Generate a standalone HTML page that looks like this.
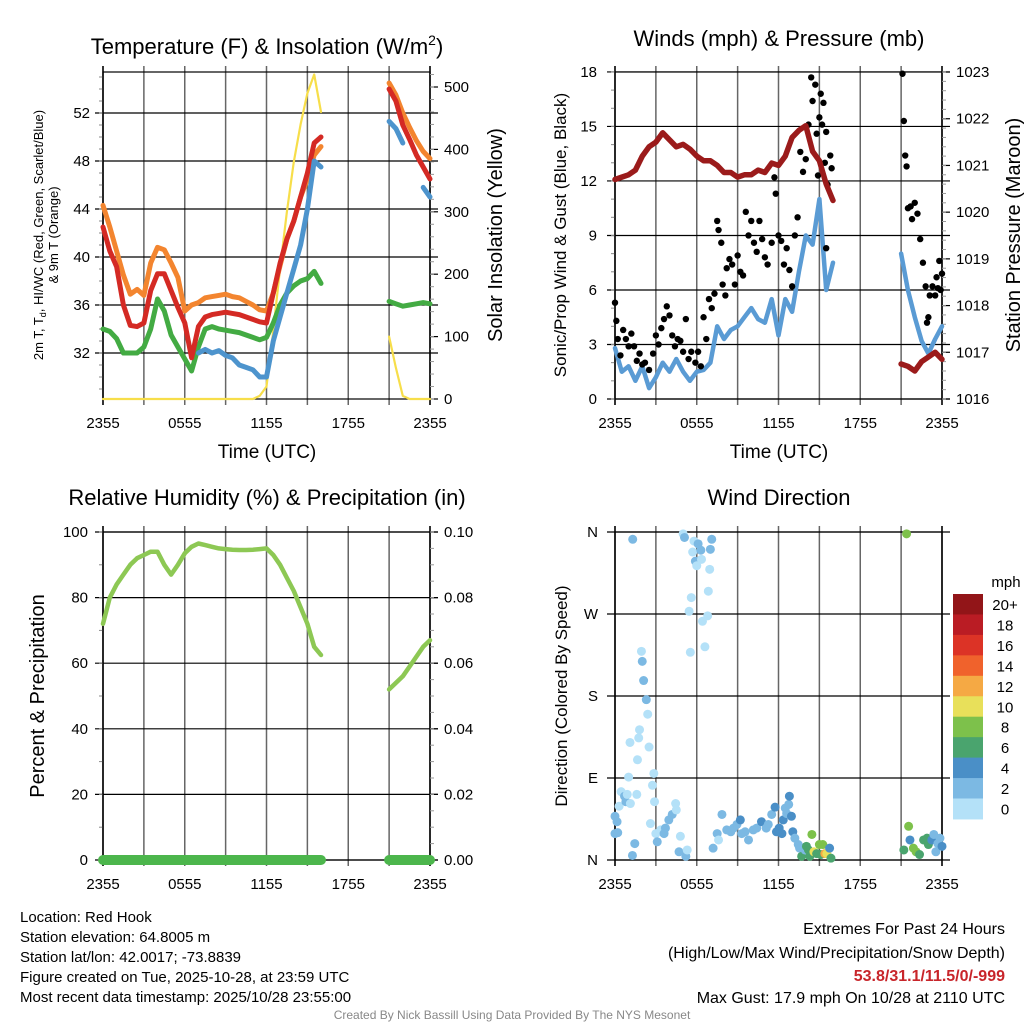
<!DOCTYPE html>
<html><head><meta charset="utf-8"><style>
html,body{margin:0;padding:0;background:#fff;}
svg{display:block;font-family:"Liberation Sans",sans-serif;}
</style></head><body>
<svg id="c" width="1024" height="1024" viewBox="0 0 1024 1024" xmlns="http://www.w3.org/2000/svg"></svg>
<script>
// ---- shared time grid (hours since 2355) ----
const hours = [0,0.5,1,1.5,2,2.5,3,3.5,4,4.5,5,5.5,6,6.5,7,7.5,8,8.5,9,9.5,10,10.5,11,11.5,12,12.5,13,13.5,14,14.5,15,15.5,16,16.5,17,17.5,18,18.5,19,19.5,20,20.5,21,21.5,22,22.5,23,23.5,24];
const timeTickLabels = ["2355","","0555","","1155","","1755","","2355"];
const N_ = null;
// Temperature panel
const tempRed    = [42.5,40.5,39.2,36,34.3,34.2,34.5,37.2,38.6,38.6,37.2,35.8,34.5,31.6,34.2,35.0,35.2,35.3,35.4,35.3,35.2,35.0,34.8,34.6,34.5,37,39.5,41.5,43,45,47,49.5,50,N_,N_,N_,N_,N_,N_,N_,N_,N_,54,53,51,49.8,48.5,47.5,46.5];
const tempOrange = [44.3,42.5,40.5,38.5,36.9,37.3,36.8,39.5,40.8,40.6,39.5,38.3,35.5,36,36.2,36.6,36.7,36.8,36.9,36.7,36.6,36.3,36,35.6,35.5,37,39.3,41.5,43,45,46.5,48.5,49.2,N_,N_,N_,N_,N_,N_,N_,N_,N_,54.5,53.5,52,50.8,49.7,48.8,48.2];
const dewGreen   = [34,33.8,33.2,32,32,32,32.5,34,36.5,35.5,33.5,32.5,31.5,30.5,32.5,34,34.2,34,33.9,33.8,33.7,33.5,33.3,33.1,33.3,34.5,36,37,37.6,38,38.2,38.8,37.8,N_,N_,N_,N_,N_,N_,N_,N_,N_,36.3,36.1,35.9,36,36.1,36.2,36.1];
const hiwcBlue   = [N_,N_,N_,N_,N_,N_,N_,N_,N_,N_,N_,N_,N_,N_,32,32.3,32,32.2,31.8,31.6,31,30.8,30.6,30,30,33,35,37,39,41,44,48,47.5,N_,N_,N_,N_,N_,N_,N_,N_,N_,51.3,50.7,49.5,N_,N_,45.8,45];
const solar      = [0,0,0,0,0,0,0,0,0,0,0,0,0,0,0,0,0,0,0,0,0,0,0,5,20,110,210,300,380,440,490,520,460,N_,N_,N_,N_,N_,N_,N_,N_,N_,100,50,5,0,0,0,0];
const tempTicks = [32,36,40,44,48,52];
const solarTicks = [0,100,200,300,400,500];
// Wind panel
const windSpeed = [2.8,1.5,1.8,1.0,1.8,0.6,1.2,2.0,1.5,2.2,1.5,1.0,1.5,1.6,2.0,4.0,3.3,3.8,4.0,4.5,5.0,4.4,4.2,5.5,3.5,5.5,4.8,7.0,9,8.5,11,6,7.5,N_,N_,N_,N_,N_,N_,N_,N_,N_,8,6,4.5,3.2,2.5,3.3,4.0];
const pressure = [1020.7,1020.75,1020.8,1020.9,1021.2,1021.4,1021.5,1021.7,1021.55,1021.4,1021.45,1021.35,1021.2,1021.1,1021.1,1021.0,1020.85,1020.85,1020.75,1020.8,1020.8,1020.9,1020.85,1021.05,1021.0,1021.2,1021.6,1021.75,1021.85,1021.3,1021.1,1020.6,1020.25,N_,N_,N_,N_,N_,N_,N_,N_,N_,1016.75,1016.7,1016.6,1016.8,1016.9,1017.0,1016.85];
const gustHours = [0,0.1,0.2,0.4,0.6,0.8,1.0,1.2,1.4,1.6,1.8,2.0,2.2,2.5,2.8,3.0,3.2,3.4,3.6,3.8,4.0,4.2,4.4,4.6,4.8,5.0,5.2,5.4,5.6,5.9,6.1,6.3,6.5,6.7,6.9,7.1,7.3,7.5,7.6,7.8,7.9,8.1,8.2,8.4,8.6,8.8,9.0,9.2,9.4,9.6,9.8,10.0,10.2,10.4,10.6,10.8,11.0,11.2,11.5,11.7,11.8,12.0,12.2,12.4,12.6,12.8,13.0,13.2,13.4,13.6,13.8,14.0,14.2,14.4,14.5,14.7,14.8,14.9,15.0,15.1,15.2,15.3,15.4,15.5,15.6,15.8,15.9,15.5,21.1,21.2,21.3,21.4,21.5,21.7,21.8,22.0,22.2,22.4,22.6,22.8,22.9,23.0,23.1,23.3,23.5,23.6,23.8,23.9,24.0,23.7];
const gustMph   = [5.3,4.3,3.3,2.4,3.8,3.3,2.9,3.6,2.9,2.1,2.5,1.9,2.0,1.6,2.5,3.5,3.0,3.9,4.4,5.1,4.6,3.5,2.9,3.3,3.2,2.6,4.4,2.2,2.6,2.0,2.6,1.8,4.5,3.3,5.5,5.0,5.8,9.8,9.3,8.6,6.3,5.7,7.2,7.7,7.4,6.3,7.9,7.0,6.8,10.3,9.0,9.8,8.6,8.1,9.8,8.8,7.8,7.4,8.6,12.2,11.3,9.0,8.7,7.4,8.3,7.1,6.2,9.0,10.0,13.6,12.5,13.2,15.1,17.7,16.4,17.3,14.6,12.3,15.5,16.8,15.1,16.3,13.0,14.7,11.8,13.4,12.7,8.3,17.9,15.3,13.4,12.8,10.5,10.6,9.9,10.8,10.2,8.8,7.5,6.2,4.2,4.5,5.7,6.2,5.7,6.7,7.6,6.0,6.9,6.1];
const windTicks = [0,3,6,9,12,15,18];
const pressTicks = [1016,1017,1018,1019,1020,1021,1022,1023];
// RH panel
const rh = [72,80,84,87,90,92,93,94,94,90,87,90,93.5,95.5,96.5,96,95.5,95,94.8,94.6,94.5,94.5,94.6,94.8,95,93,90,86,82,77,72,65,62.5,N_,N_,N_,N_,N_,N_,N_,N_,N_,52,54,56,59,62,65,67];
const precip = [0,0,0,0,0,0,0,0,0,0,0,0,0,0,0,0,0,0,0,0,0,0,0,0,0,0,0,0,0,0,0,0,0,N_,N_,N_,N_,N_,N_,N_,N_,N_,0,0,0,0,0,0,0];
const rhTicks = [0,20,40,60,80,100];
const precipTickLabels = ["0.00","0.02","0.04","0.06","0.08","0.10"];
// Wind direction panel
const dirHours = [0,0.15,0.0,0.2,0.3,0.45,0.7,0.8,0.9,1.0,1.1,1.13,1.3,1.28,1.45,1.6,1.65,1.74,1.8,1.94,2.0,2.1,2.3,2.4,2.5,2.6,2.75,2.85,2.9,3.0,3.1,3.35,3.6,3.7,3.95,4.2,4.45,4.5,4.7,4.8,5.0,5.1,5.2,5.3,5.44,5.53,5.6,5.7,5.8,5.9,6.0,6.1,6.3,6.35,6.42,6.6,6.8,6.85,6.95,7.0,7.1,7.2,7.5,7.6,7.85,8.2,8.5,8.7,8.95,9.2,9.3,9.55,9.8,10.15,10.4,10.75,11.1,11.25,11.5,11.75,11.85,12.05,12.25,12.35,12.5,12.6,12.75,12.8,12.95,13.05,13.2,13.45,13.55,13.7,13.95,14.05,14.2,14.3,14.45,14.6,14.8,15.0,15.1,15.25,15.4,15.55,15.75,15.85,21.2,21.4,21.55,21.65,21.9,22.1,22.35,22.65,22.9,23.0,23.25,23.4,23.55,23.7,23.85,24.0];
const dirDeg   = [48,42,29,30,59,75,70,64,72,91,129,62,352,5,18,72,110,134,143,229,218,197,176,160,124,40,82,95,64,29,20,33,29,35,44,50,62,55,9,26,358,354,4,11,273,228,288,338,350,328,323,347,340,330,262,234,268,295,319,341,352,13,29,22,50,33,31,35,39,44,29,31,22,33,35,42,35,39,50,58,31,35,29,44,57,51,61,70,48,31,24,17,13,4,11,15,11,4,28,9,7,17,6,17,7,7,13,2,11,358,37,22,13,9,6,22,24,17,22,28,9,18,24,15,17,11,9,13];
const dirSpeed = [2,2,3,3,1,1,2,2,1,0,0,0,3,2,2,0,0,0,0,0,3,3,3,0,0,0,0,0,0,0,2,0,2,2,2,2,0,0,3,0,0,2,3,0,0,0,0,0,0,3,0,3,3,0,0,0,0,0,0,2,2,2,2,0,3,3,3,3,3,4,3,3,2,3,3,5,3,3,3,4,5,5,5,4,3,3,2,4,4,4,3,3,3,6,3,6,6,6,8,10,6,8,6,8,13,10,4,6,6,8,8,4,8,8,6,6,6,6,4,2,2,2,2,4,2,4,4,4];
const speedBinLabels = ["0","2","4","6","8","10","12","14","16","18","20+"];
const speedBinColors = ["#b4e1f8","#7cb9e3","#4a8fc7","#4aa46e","#7dc14b","#e8e05a","#f5a944","#f0622c","#dc3326","#ba1c24","#921518"];

// ---------- drawing ----------
const svg = document.getElementById('c');
const NS = 'http://www.w3.org/2000/svg';
function mk(tag, attrs, parent){ const e=document.createElementNS(NS,tag); for(const k in attrs) e.setAttribute(k,attrs[k]); (parent||svg).appendChild(e); return e; }
function txt(s, attrs, parent){ const e=mk('text',attrs,parent); e.textContent=s; return e; }

function panel(name, x0, x1, yTop, yBot){
  const g = mk('g',{});
  
  
  return {g, x0, x1, yTop, yBot, xs: h => x0 + (x1-x0)*h/24};
}
function grid(p, yVals, ys, ticksLeft, minorStep, yMin, yMax){
  // vertical gridlines
  for(let i=0;i<=8;i++){
    const x = p.xs(i*3);
    const l = mk('line',{x1:x,x2:x,y1:p.yTop-6,y2:p.yBot+6,stroke:(i==0||i==8)?'#000':'#666','stroke-width':(i==0||i==8)?1.6:1.5},p.g);
    
    
    if(timeTickLabels[i]!==''){
      const t = txt(timeTickLabels[i],{x:x,y:p.yBot+29,'font-size':15,'text-anchor':'middle'},p.g);
      
      
    }
  }
  yVals.forEach(v=>{
    const y = ys(v);
    const l = mk('line',{x1:p.x0-8,x2:p.x1+8,y1:y,y2:y,stroke:'#000','stroke-width':1.2},p.g);
    
    
  });
  if(minorStep){
    for(let v=yMin; v<=yMax+1e-9; v+=minorStep){
      const y=ys(v);
      mk('line',{x1:p.x0-4,x2:p.x0,y1:y,y2:y,stroke:'#888','stroke-width':1},p.g);
    }
  }
  mk('rect',{x:p.x0,y:p.yTop,width:p.x1-p.x0,height:p.yBot-p.yTop,fill:'none',stroke:'#000','stroke-width':1.2},p.g);
}
function line(p, xs, vals, ys, color, w, name){
  let d='', pen=false;
  vals.forEach((v,i)=>{
    if(v===null){pen=false;return;}
    d += (pen?'L':'M') + p.xs(xs[i]).toFixed(1)+' '+ys(v).toFixed(1)+' ';
    pen=true;
  });
  const e = mk('path',{d, fill:'none', stroke:color,'stroke-width':w,'stroke-linejoin':'round','stroke-linecap':'round'},p.g);
  
  
}
function leftLabels(p, vals, ys, labels, x){
  vals.forEach((v,i)=>{
    const t=txt(labels?labels[i]:String(v),{x:x,y:ys(v)+5,'font-size':15,'text-anchor':'end'},p.g);
    
    
  });
}
function rightLabels(p, vals, ys, labels, minor){
  vals.forEach((v,i)=>{
    const y=ys(v);
    mk('line',{x1:p.x1,x2:p.x1+8,y1:y,y2:y,stroke:'#000','stroke-width':1.2},p.g);
    const t=txt(labels?labels[i]:String(v),{x:p.x1+14,y:y+5,'font-size':15},p.g);
    
    
  });
  if(minor){ for(let y=ys(minor[0]); y>=p.yTop-0.5; y-=minor[1]) mk('line',{x1:p.x1,x2:p.x1+4,y1:y,y2:y,stroke:'#999','stroke-width':1},p.g); }
}
function title(s, x, y, size, name, rot){
  const a={x:x,y:y,'font-size':size,'text-anchor':'middle'};
  if(rot) a.transform='rotate(-90 '+x+' '+y+')';
  const t=txt(s,a);
  
  
  return t;
}

// ---- Panel 1: temperature ----
{
  const p = panel('temperature-panel',103,430,72,399);
  const ys = v => 113 + (52-v)*12;
  const ysS = v => 399 - v*0.624;
  grid(p, tempTicks, ys, true, 1, 29, 55);
  leftLabels(p, tempTicks, ys, null, 90);
  rightLabels(p, solarTicks, ysS, null, [0,12.48]);
  line(p, hours, solar, ysS, '#f7de4a', 2.2, 'solar-insolation-line');
  line(p, hours, dewGreen, ys, '#43ab43', 5, 'dewpoint-line');
  line(p, hours, tempOrange, ys, '#f3852f', 5, '9m-temperature-line');
  line(p, hours, tempRed, ys, '#d42a24', 5, '2m-temperature-line');
  line(p, hours, hiwcBlue, ys, '#4d94cd', 5, 'hi-wc-line');
}
{
  const t = txt('',{x:267,y:54,'font-size':22,'text-anchor':'middle'});
   
  t.innerHTML = 'Temperature (F) &amp; Insolation (W/m<tspan dy="-9" font-size="14">2</tspan><tspan dy="9">)</tspan>';
}
title('Time (UTC)',267,458,19,'x-axis-title-temp');
{
  const t = txt('',{x:43,y:235,'font-size':13,'text-anchor':'middle',transform:'rotate(-90 43 235)'});
   
  t.innerHTML='2m T, T<tspan dy="3" font-size="9">d</tspan><tspan dy="-3">, HI/WC (Red, Green, Scarlet/Blue)</tspan>';
  title('& 9m T (Orange)',58,235,13,'temp-y-axis-title-2',true);
}
title('Solar Insolation (Yellow)',502,235,20,'solar-axis-title',true);

// ---- Panel 2: winds ----
{
  const p = panel('wind-pressure-panel',615,942,72,399);
  const ys = v => 399 - v*18.17;
  const ysP = v => 399 - (v-1016)*46.71;
  grid(p, windTicks, ys, true, 1, 0, 18);
  leftLabels(p, windTicks, ys, null, 597);
  rightLabels(p, pressTicks, ysP, null, [1016,9.342]);
  line(p, hours, windSpeed, ys, '#5a9bd4', 4.5, 'wind-speed-line');
  gustHours.forEach((h,i)=>{
    const c = mk('circle',{cx:p.xs(h),cy:ys(gustMph[i]),r:3.2,fill:'#000'},p.g);
    
    
  });
  line(p, hours, pressure, ysP, '#9b1b1b', 5.5, 'pressure-line');
}
title('Winds (mph) & Pressure (mb)',779,46,22,'winds-title');
title('Time (UTC)',779,458,19,'x-axis-title-wind');
title('Sonic/Prop Wind & Gust (Blue, Black)',566,235,17,'wind-y-axis-title',true);
title('Station Pressure (Maroon)',1020,235,20,'pressure-axis-title',true);

// ---- Panel 3: RH ----
{
  const p = panel('rh-precip-panel',103,430,532,860);
  const ys = v => 860 - v*3.28;
  grid(p, rhTicks, ys, true, 10, 0, 100);
  leftLabels(p, rhTicks, ys, null, 88);
  rightLabels(p, rhTicks, ys, precipTickLabels, [0,16.4]);
  line(p, hours, rh, ys, '#8dc854', 4.5, 'rh-line');
  line(p, hours, precip, ys, '#4cb64c', 10, 'precip-line');
}
title('Relative Humidity (%) & Precipitation (in)',267,505,22,'rh-title');
title('Percent & Precipitation',44,696,20,'rh-y-axis-title',true);

// ---- Panel 4: direction ----
{
  const p = panel('wind-direction-panel',615,942,532,860);
  const ys = d => 860 - d*0.9111;
  const dirTicks=[0,90,180,270,360];
  grid(p, dirTicks, ys, true, 0, 0, 0);
  leftLabels(p, dirTicks, ys, ['N','E','S','W','N'], 598);
  dirHours.forEach((h,i)=>{
    const bin = Math.min(10, Math.floor(dirSpeed[i]/2));
    const c = mk('circle',{cx:p.xs(h),cy:ys(dirDeg[i]),r:4.5,fill:speedBinColors[bin]},p.g);
    
    
  });
  // colorbar
  const cb = mk('g',{});
  
  
  const top=594, bh=20.45;
  for(let i=0;i<11;i++){
    const k=10-i;
    mk('rect',{x:953,y:top+i*bh,width:30,height:bh+0.5,fill:speedBinColors[k]},cb);
    const t=txt(speedBinLabels[k],{x:1005,y:top+i*bh+16,'font-size':15,'text-anchor':'middle'},cb);
    
    
  }
  txt('mph',{x:1006,y:587,'font-size':15,'text-anchor':'middle'},cb);
}
title('Wind Direction',779,505,22,'direction-title');
title('Direction (Colored By Speed)',567,696,17,'direction-y-axis-title',true);

// ---- footer ----
const info=['Location: Red Hook','Station elevation: 64.8005 m','Station lat/lon: 42.0017; -73.8839','Figure created on Tue, 2025-10-28, at 23:59 UTC','Most recent data timestamp: 2025/10/28 23:55:00'];
info.forEach((s,i)=>{const t=txt(s,{x:20,y:922+i*20,'font-size':15});  });
[['Extremes For Past 24 Hours',934,'#000','normal'],['(High/Low/Max Wind/Precipitation/Snow Depth)',958,'#000','normal'],['53.8/31.1/11.5/0/-999',981,'#c8252a','bold'],['Max Gust: 17.9 mph On 10/28 at 2110 UTC',1003,'#000','normal']].forEach(r=>{
  const t=txt(r[0],{x:1005,y:r[1],'font-size':r[3]=='bold'?16:16,'text-anchor':'end',fill:r[2],'font-weight':r[3]});
   
});
{const t=txt('Created By Nick Bassill Using Data Provided By The NYS Mesonet',{x:512,y:1019,'font-size':12,'text-anchor':'middle',fill:'#888'});  }
</script>
</body></html>
